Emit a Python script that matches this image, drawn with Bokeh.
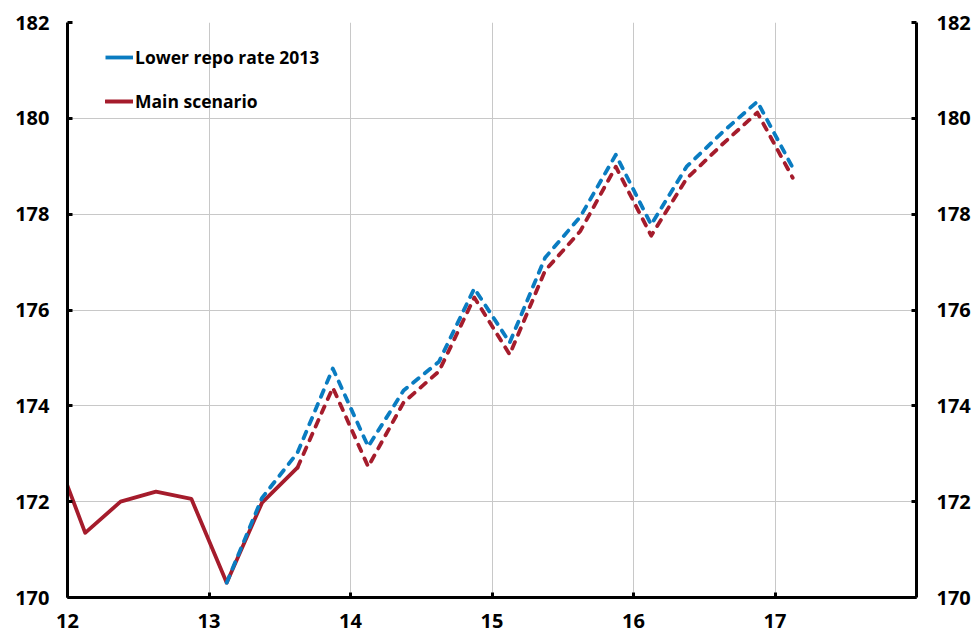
from bokeh.plotting import figure
from bokeh.models import (LinearAxis, FixedTicker, Legend, LegendItem, Range1d)
from bokeh.embed import file_html
from bokeh.resources import INLINE

# ---- data (quarterly, x in years since 2000, mid-quarter) ----
main_hist_x = [11.875, 12.125, 12.375, 12.625, 12.875, 13.125, 13.375, 13.625]
main_hist_y = [173.31, 171.35, 172.0, 172.21, 172.06, 170.31, 171.98, 172.71]

main_fc_x = [13.625, 13.875, 14.125, 14.375, 14.625, 14.875, 15.125, 15.375,
             15.625, 15.875, 16.125, 16.375, 16.625, 16.875, 17.125]
main_fc_y = [172.71, 174.38, 172.73, 174.07, 174.72, 176.26, 175.07, 176.82,
             177.65, 178.99, 177.55, 178.74, 179.45, 180.12, 178.76]

lower_x = [13.125, 13.375, 13.625, 13.875, 14.125, 14.375, 14.625, 14.875,
           15.125, 15.375, 15.625, 15.875, 16.125, 16.375, 16.625, 16.875, 17.125]
lower_y = [170.31, 172.08, 173.02, 174.78, 173.15, 174.32, 174.92, 176.45,
           175.32, 177.09, 177.95, 179.24, 177.78, 178.99, 179.7, 180.35, 178.97]

x_ticks = [12, 13, 14, 15, 16, 17]
x_tick_labels = ["12", "13", "14", "15", "16", "17"]
y_ticks = [170, 172, 174, 176, 178, 180, 182]

series_names = ["Lower repo rate 2013", "Main scenario"]

BLUE = "#0a7cc1"
RED = "#a51c2c"
FONT = "Open Sans"

p = figure(width=978, height=632, output_backend="svg", toolbar_location=None,
           x_range=Range1d(12, 18), y_range=Range1d(170, 182),
           min_border_left=67, min_border_right=62, min_border_top=22,
           min_border_bottom=35, y_axis_location="left")
p.outline_line_color = None
p.background_fill_color = "white"
p.border_fill_color = "white"

# grids
p.xgrid.ticker = FixedTicker(ticks=x_ticks)
p.ygrid.ticker = FixedTicker(ticks=y_ticks)
for g in (p.xgrid, p.ygrid):
    g.grid_line_color = "#c8c8c8"
    g.grid_line_width = 1

def style_axis(ax):
    ax.axis_line_color = "black"
    ax.axis_line_width = 3
    ax.major_tick_in = 5
    ax.major_tick_out = 0
    ax.major_tick_line_width = 3
    ax.major_tick_line_color = "black"
    ax.minor_tick_line_color = None
    ax.major_label_text_font = FONT
    ax.major_label_text_font_style = "bold"
    ax.major_label_text_font_size = "20px"
    ax.major_label_text_color = "black"

xa = p.xaxis[0]
xa.ticker = FixedTicker(ticks=x_ticks)
xa.major_label_overrides = {t: l for t, l in zip(x_ticks, x_tick_labels)}
style_axis(xa)
xa.major_label_standoff = 16

ya = p.yaxis[0]
ya.ticker = FixedTicker(ticks=y_ticks)
style_axis(ya)
ya.major_label_standoff = 18

yr = LinearAxis(ticker=FixedTicker(ticks=y_ticks))
style_axis(yr)
yr.major_label_standoff = 20
p.add_layout(yr, "right")

# lines
lw = 3.8
r_hist = p.line(main_hist_x, main_hist_y, line_color=RED, line_width=lw,
                line_join="round", line_cap="round")
p.line(lower_x, lower_y, line_color=BLUE, line_width=lw, line_dash="7 8",
       line_join="round", line_cap="round")
p.line(main_fc_x, main_fc_y, line_color=RED, line_width=lw, line_dash="7 8",
       line_join="round", line_cap="round")

# solid legend sample for the blue series (single point: draws nothing in plot)
leg_blue = p.line(lower_x[:1], lower_y[:1], line_color=BLUE, line_width=lw)

legend = Legend(items=[LegendItem(label=series_names[0], renderers=[leg_blue]),
                       LegendItem(label=series_names[1], renderers=[r_hist])],
                location=(38, 484), border_line_color=None,
                background_fill_alpha=0, padding=0, margin=0, spacing=20,
                glyph_width=28, glyph_height=20, label_height=20,
                label_standoff=2, label_text_font=FONT,
                label_text_font_style="bold", label_text_font_size="17.5px",
                label_text_color="black")
p.add_layout(legend, "center")

open("out.html", "w").write(file_html(p, INLINE))
